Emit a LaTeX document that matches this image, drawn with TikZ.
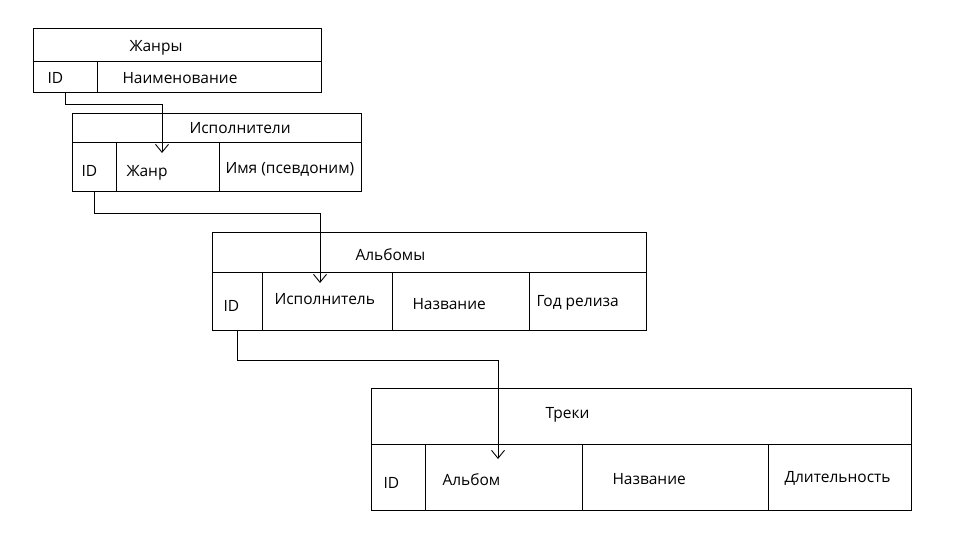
\documentclass[tikz,border=0pt]{standalone}
\usepackage{fontspec}
\setmainfont{Open Sans}
\usetikzlibrary{arrows.meta}
\begin{document}
\begin{tikzpicture}[x=1pt,y=-1pt,line width=1pt,
  cell/.style={draw,inner sep=0pt,anchor=north west},
  lbl/.style={anchor=base west,inner sep=0pt,font=\fontsize{15.5}{18}\selectfont},
  link/.style={-{Straight Barb[length=8pt,width=13pt,line width=0.9pt]},line width=1pt}]
\useasboundingbox (0,0) rectangle (953,557);
% Жанры
\node[cell,minimum width=288pt,minimum height=33pt] (g-t) at (33,28) {};
\node[cell,minimum width=64pt,minimum height=31pt] (g-id) at (33,61) {};
\node[cell,minimum width=224pt,minimum height=31pt] (g-n) at (97,61) {};
\node[lbl] (g-tl) at (129,51) {Жанры};
\node[lbl] (g-idl) at (47,83) {ID};
\node[lbl] (g-nl) at (122,83) {Наименование};
% Исполнители
\node[cell,minimum width=289pt,minimum height=29pt] (a-t) at (72,113) {};
\node[cell,minimum width=44pt,minimum height=49pt] (a-id) at (72,142) {};
\node[cell,minimum width=103pt,minimum height=49pt] (a-g) at (116,142) {};
\node[cell,minimum width=142pt,minimum height=49pt] (a-n) at (219,142) {};
\node[lbl] (a-tl) at (189,133) {Исполнители};
\node[lbl] (a-idl) at (81,176) {ID};
\node[lbl] (a-gl) at (126,176) {Жанр};
\node[lbl] (a-nl) at (225,173) {Имя (псевдоним)};
% Альбомы
\node[cell,minimum width=434pt,minimum height=40pt] (al-t) at (212,232) {};
\node[cell,minimum width=50pt,minimum height=58pt] (al-id) at (212,272) {};
\node[cell,minimum width=130pt,minimum height=58pt] (al-a) at (262,272) {};
\node[cell,minimum width=137pt,minimum height=58pt] (al-n) at (392,272) {};
\node[cell,minimum width=117pt,minimum height=58pt] (al-y) at (529,272) {};
\node[lbl] (al-tl) at (355,260) {Альбомы};
\node[lbl] (al-idl) at (223,311) {ID};
\node[lbl] (al-al) at (274,304) {Исполнитель};
\node[lbl] (al-nl) at (412,309) {Название};
\node[lbl] (al-yl) at (536,306) {Год релиза};
% Треки
\node[cell,minimum width=540pt,minimum height=56pt] (t-t) at (371,388) {};
\node[cell,minimum width=54pt,minimum height=66pt] (t-id) at (371,444) {};
\node[cell,minimum width=157pt,minimum height=66pt] (t-a) at (425,444) {};
\node[cell,minimum width=186pt,minimum height=66pt] (t-n) at (582,444) {};
\node[cell,minimum width=143pt,minimum height=66pt] (t-d) at (768,444) {};
\node[lbl] (t-tl) at (545,418) {Треки};
\node[lbl] (t-idl) at (383,488) {ID};
\node[lbl] (t-al) at (442,485) {Альбом};
\node[lbl] (t-nl) at (612,484) {Название};
\node[lbl] (t-dl) at (784,482) {Длительность};
% connectors
\coordinate (c1) at (162,153);
\coordinate (c2) at (320,283);
\coordinate (c3) at (498,459);
\draw[link] (g-id.south) -- ++(0,11) -| (c1);
\draw[link] (a-id.south) -- ++(0,21) -| (c2);
\draw[link] (al-id.south) -- ++(0,29) -| (c3);
\end{tikzpicture}
\end{document}
